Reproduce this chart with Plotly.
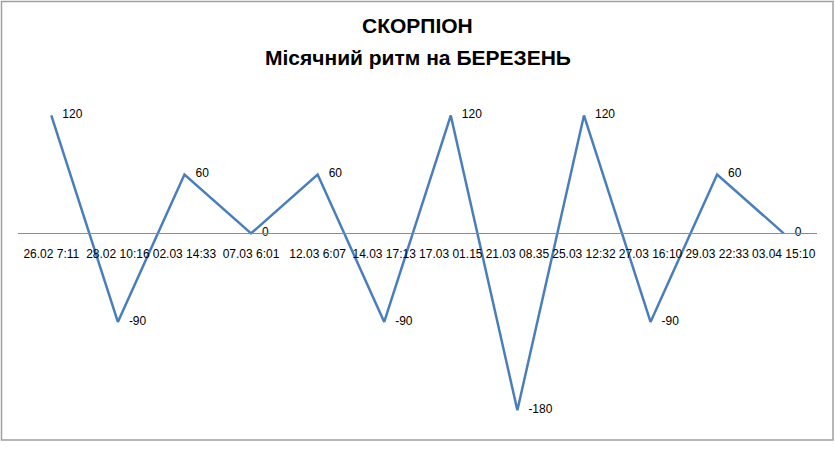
import plotly.graph_objects as go

# Data
dates = ["26.02 7:11", "28.02 10:16", "02.03 14:33", "07.03 6:01",
         "12.03 6:07", "14.03 17:13", "17.03 01.15", "21.03 08.35",
         "25.03 12:32", "27.03 16:10", "29.03 22:33", "03.04 15:10"]
rhythm = [120, -90, 60, 0, 60, -90, 120, -180, 120, -90, 60, 0]

title_lines = ["СКОРПІОН", "Місячний ритм на БЕРЕЗЕНЬ"]

W, H = 835, 463
ml, mr, mt, mb = 18, 18, 86, 33
y_min, y_max = -200, 150
pw, ph = W - ml - mr, H - mt - mb

fig = go.Figure()

fig.add_trace(go.Scatter(
    x=list(range(len(dates))),
    y=rhythm,
    mode='lines+markers+text',
    line=dict(color='#4A7EBB', width=2.5),
    marker=dict(size=16, color='rgba(0,0,0,0)'),
    text=[str(v) for v in rhythm],
    textposition='middle right',
    textfont=dict(family='Liberation Sans', size=12, color='#000000'),
    cliponaxis=False,
    showlegend=False,
    hoverinfo='skip'
))

# chart border like the Excel chart area
fig.add_shape(type='rect', xref='paper', yref='paper',
              x0=(1.5 - ml) / pw, x1=(833 - ml) / pw,
              y0=(H - mb - 440) / ph, y1=(H - mb - 1.5) / ph,
              line=dict(color='#A0A0A0', width=1.5))

# two-line title
for txt, ypx in zip(title_lines, [26, 57]):
    fig.add_annotation(text='<b>' + txt + '</b>', xref='paper', yref='paper',
                       x=0.5, y=(H - mb - ypx) / ph, showarrow=False,
                       xanchor='center', yanchor='middle',
                       font=dict(family='Liberation Sans', size=21, color='#000000'))

fig.update_layout(
    width=W, height=H,
    margin=dict(l=ml, r=mr, t=mt, b=mb),
    paper_bgcolor='white',
    plot_bgcolor='white',
    font=dict(family='Liberation Sans', size=12, color='#000000')
)

fig.update_xaxes(
    tickmode='array',
    tickvals=list(range(len(dates))),
    ticktext=dates,
    range=[-0.5, len(dates) - 0.5],
    anchor='free',
    position=(0 - y_min) / (y_max - y_min),
    showline=True, linecolor='#8C8C8C', linewidth=1,
    showgrid=False, zeroline=False,
    ticks='', ticklabelstandoff=9,
    tickangle=0,
    tickfont=dict(family='Liberation Sans', size=12, color='#000000')
)
fig.update_yaxes(range=[y_min, y_max], visible=False)

fig.write_html("out.html", config={'displayModeBar': False},
               post_script="document.body.style.margin='0';")
